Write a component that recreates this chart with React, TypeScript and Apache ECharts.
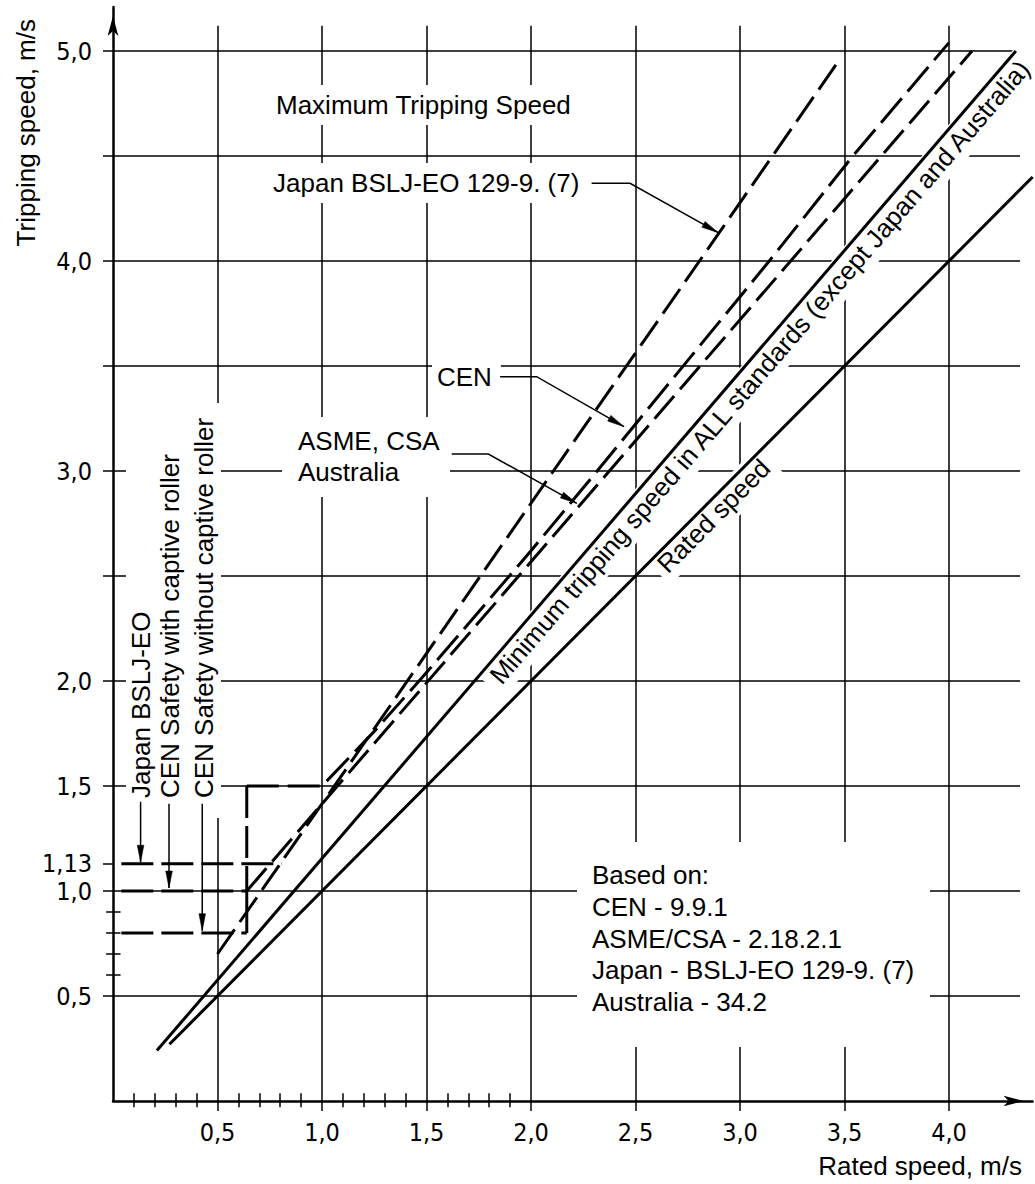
import React, { useEffect, useRef } from "react";
import * as echarts from "echarts";

// ---------------- data (m/s) ----------------
const xTickValues = [0.5, 1.0, 1.5, 2.0, 2.5, 3.0, 3.5, 4.0];
const yLabelValues = [0.5, 1.0, 1.13, 1.5, 2.0, 3.0, 4.0, 5.0];
const yGridValues = [0.5, 1.0, 1.5, 2.0, 2.5, 3.0, 3.5, 4.0, 4.5, 5.0];
const xMinorTicks = [0.1, 0.2, 0.3, 0.4, 0.6, 0.7, 0.8, 0.9, 1.1, 1.2, 1.3, 1.4, 1.6, 1.7, 1.8, 1.9];
const yMinorTicks = [0.6, 0.7, 0.8, 0.9];
const ySpecialTicks = [1.13];

const ratedSpeed = [[0.27, 0.27], [4.4, 4.4]];
const minTripping = [[0.21, 0.24], [4.32, 5.0]];
const asmeCsa = [[0.64, 1.0], [4.11, 5.0]];
const japanMax = [[0.5, 0.7], [3.47, 4.95]];
const japanLow = [[0.04, 1.13], [0.807, 1.13]];
const cenWithRoller = [[0.04, 1.0], [0.64, 1.0]];
const cenWithoutRoller = [[0.04, 0.8], [0.64, 0.8]];
const cenStep = [[0.64, 0.8], [0.64, 1.0]];
const cenRise = [[0.64, 1.5], [0.64, 1.0]];
const cenProgressive = [
  [0.64, 1.5], [1.0, 1.5], [1.25, 1.76], [1.5, 2.04], [1.75, 2.33], [2.0, 2.62],
  [2.3, 2.98], [2.72, 3.49], [3.14, 4.0], [3.54, 4.5], [4.0, 5.04],
];

const basedOnLines = [
  "Based on:",
  "CEN - 9.9.1",
  "ASME/CSA - 2.18.2.1",
  "Japan - BSLJ-EO 129-9. (7)",
  "Australia - 34.2",
];

// ---------------- styling ----------------
const SANS = '"Liberation Sans", Arial, Helvetica, sans-serif';
const NARROW = '"Liberation Sans Narrow", "DejaVu Sans Condensed", "Liberation Sans", sans-serif';
const F26 = `26px ${SANS}`;
const DASH = [30, 9];

const fmt = (v: number) => (Math.abs(v - 1.13) < 1e-6 ? "1,13" : v.toFixed(1).replace(".", ","));

let measureCtx: CanvasRenderingContext2D | null = null;
function textWidth(s: string, font: string) {
  if (!measureCtx) measureCtx = document.createElement("canvas").getContext("2d");
  if (!measureCtx) return s.length * 13;
  measureCtx.font = font;
  return measureCtx.measureText(s).width;
}

function dataLine(name: string, data: number[][], dashed: boolean, dash = DASH) {
  return {
    type: "line",
    name,
    data,
    showSymbol: false,
    symbol: "none",
    clip: false,
    silent: true,
    z: 3,
    lineStyle: { color: "#000", width: 3, type: dashed ? dash : "solid", cap: "butt", join: "miter" },
  };
}

function baseOption() {
  const segs: any[] = [];
  xTickValues.forEach((v) => segs.push({ coords: [[v, -0.048], [v, 5.12]] }));
  yGridValues.forEach((v) => segs.push({ coords: [[-0.048, v], [4.34, v]] }));
  xMinorTicks.forEach((v) => segs.push({ coords: [[v, -0.03], [v, 0.037]] }));
  yMinorTicks.forEach((v) => segs.push({ coords: [[-0.033, v], [0.036, v]] }));
  ySpecialTicks.forEach((v) => segs.push({ coords: [[-0.048, v], [0, v]] }));

  const labelStyle = { color: "#000", fontFamily: NARROW, fontSize: 25 };
  return {
    animation: false,
    backgroundColor: "#fff",
    grid: { left: 113, right: 2.4, top: 6.9, bottom: 83, containLabel: false },
    xAxis: {
      type: "value",
      min: 0,
      max: 4.4,
      axisLine: {
        show: true,
        onZero: false,
        lineStyle: { color: "#000", width: 2.5 },
        symbol: ["none", "arrow"],
        symbolSize: [8, 20],
        symbolOffset: [0, -9],
      },
      axisTick: { show: false },
      splitLine: { show: false },
      axisLabel: { ...labelStyle, customValues: xTickValues, formatter: fmt, margin: 19 },
    },
    yAxis: {
      type: "value",
      min: 0,
      max: 5.21,
      axisLine: {
        show: true,
        onZero: false,
        lineStyle: { color: "#000", width: 2.5 },
        symbol: ["none", "arrow"],
        symbolSize: [8, 20],
        symbolOffset: [0, -9],
      },
      axisTick: { show: false },
      splitLine: { show: false },
      axisLabel: { ...labelStyle, customValues: yLabelValues, formatter: fmt, margin: 21 },
    },
    series: [
      {
        type: "lines",
        coordinateSystem: "cartesian2d",
        data: segs,
        silent: true,
        clip: false,
        z: 1,
        lineStyle: { color: "#000", width: 1.5, opacity: 1, curveness: 0 },
      },
      dataLine("Rated speed", ratedSpeed, false),
      dataLine("Minimum tripping speed", minTripping, false),
      dataLine("ASME, CSA, Australia", asmeCsa, true),
      dataLine("Japan BSLJ-EO 129-9. (7)", japanMax, true),
      dataLine("Japan BSLJ-EO low", japanLow, true, [32, 8]),
      dataLine("CEN with captive roller", cenWithRoller, true, [32, 8]),
      dataLine("CEN without captive roller", cenWithoutRoller, true, [32, 8]),
      dataLine("CEN step", cenStep, false),
      dataLine("CEN rise", cenRise, true, [32, 8]),
      dataLine("CEN", cenProgressive, true, [32, 9]),
    ],
  };
}

function buildGraphic(chart: any) {
  const P = (p: number[]) => chart.convertToPixel({ gridIndex: 0 }, p) as number[];
  const g: any[] = [];

  const mask = (x1: number, y1: number, x2: number, y2: number) =>
    g.push({ type: "rect", z: 2, silent: true, shape: { x: x1, y: y1, width: x2 - x1, height: y2 - y1 }, style: { fill: "#fff" } });

  const text = (s: string, x: number, y: number, align = "left", font = F26) =>
    g.push({
      type: "text",
      z: 5,
      silent: true,
      x,
      y,
      style: { text: s, font, fill: "#000", align, textAlign: align, verticalAlign: "middle", textVerticalAlign: "middle" },
    });

  const masked = (s: string, x: number, y: number, pl: number, pr: number, pv: number) => {
    const w = textWidth(s, F26);
    mask(x - pl, y - 13 - pv, x + w + pr, y + 13 + pv);
    text(s, x, y);
  };

  const rotated = (s: string, cx: number, cy: number, ang: number, align: string, padX: number, padY: number, withMask: boolean) => {
    const w = textWidth(s, F26);
    const h = 26;
    const x0 = align === "left" ? 0 : align === "right" ? -w : -w / 2;
    const children: any[] = [];
    if (withMask) {
      children.push({ type: "rect", z: 2, shape: { x: x0 - padX, y: -h / 2 - padY, width: w + 2 * padX, height: h + 2 * padY }, style: { fill: "#fff" } });
    }
    children.push({
      type: "text",
      z: 5,
      style: { text: s, x: 0, y: 0, font: F26, fill: "#000", align, textAlign: align, verticalAlign: "middle", textVerticalAlign: "middle" },
    });
    g.push({ type: "group", x: cx, y: cy, rotation: ang, silent: true, children });
  };

  const alongLine = (s: string, line: number[][], xAt: number, offset: number) => {
    const p1 = P(line[0]);
    const p2 = P(line[1]);
    const ang = Math.atan2(p1[1] - p2[1], p2[0] - p1[0]);
    const t = (xAt - line[0][0]) / (line[1][0] - line[0][0]);
    const yAt = line[0][1] + t * (line[1][1] - line[0][1]);
    const c = P([xAt, yAt]);
    rotated(s, c[0] + offset * Math.sin(ang), c[1] + offset * Math.cos(ang), ang, "center", 6, 5, true);
  };

  const leader = (pts: number[][]) => {
    const px = pts.map(P);
    g.push({ type: "polyline", z: 6, silent: true, shape: { points: px }, style: { stroke: "#000", lineWidth: 1.5, fill: null } });
    const tip = px[px.length - 1];
    const prev = px[px.length - 2];
    const dx = tip[0] - prev[0];
    const dy = tip[1] - prev[1];
    const len = Math.hypot(dx, dy) || 1;
    const ux = dx / len, uy = dy / len;
    const L = 17, hw = 3.3;
    const bx = tip[0] - L * ux, by = tip[1] - L * uy;
    g.push({
      type: "polygon",
      z: 6,
      silent: true,
      shape: { points: [tip, [bx - hw * uy, by + hw * ux], [bx + hw * uy, by - hw * ux]] },
      style: { fill: "#000", stroke: "#000", lineWidth: 0.5 },
    });
  };

  // masks for block areas
  mask(126, 403, 221, 818);
  mask(577, 842, 930, 1047);
  mask(282, 417, 450, 497);

  // top annotations
  masked("Maximum Tripping Speed", 276, 105, 10, 10, 7);
  masked("Japan BSLJ-EO 129-9. (7)", 273, 183, 10, 12, 7);
  masked("CEN", 437, 377, 5, 9, 7);
  text("ASME, CSA", 298, 441);
  text("Australia", 298, 472);

  // "Based on" block
  const rows = [875, 907, 938.5, 970, 1001.5];
  basedOnLines.forEach((s, i) => text(s, 592, rows[i]));

  // leaders with arrows
  leader([[2.29, 4.37], [2.474, 4.37], [2.896, 4.135]]);
  leader([[1.852, 3.449], [2.027, 3.449], [2.445, 3.211]]);
  leader([[1.621, 3.081], [1.796, 3.081], [2.219, 2.846]]);
  leader([[0.132, 1.425], [0.132, 1.137]]);
  leader([[0.268, 1.415], [0.268, 1.014]]);
  leader([[0.427, 1.415], [0.427, 0.811]]);

  // vertical labels at left
  rotated("Japan BSLJ-EO", 140.6, 798, Math.PI / 2, "left", 0, 0, false);
  rotated("CEN Safety with captive roller", 170, 798, Math.PI / 2, "left", 0, 0, false);
  rotated("CEN Safety without captive roller", 203.5, 798, Math.PI / 2, "left", 0, 0, false);

  // texts along lines
  alongLine("Minimum tripping speed in ALL standards (except Japan and Australia)", minTripping, 3.04, 15);
  alongLine("Rated speed", ratedSpeed, 2.83, 13);

  // axis titles
  rotated("Tripping speed, m/s", 25.5, 19, Math.PI / 2, "right", 0, 0, false);
  text("Rated speed, m/s", 1022, 1166, "right");

  return g;
}

export default function App() {
  const ref = useRef<HTMLDivElement>(null);
  useEffect(() => {
    if (!ref.current) return;
    const chart = echarts.init(ref.current, null, { renderer: "svg" });
    chart.setOption(baseOption() as any);
    chart.setOption({ graphic: { elements: buildGraphic(chart) } } as any);
    return () => chart.dispose();
  }, []);
  return (
    <div
      ref={ref}
      style={{ position: "absolute", left: 0, top: 0, width: 1035, height: 1184, background: "#fff" }}
    />
  );
}
